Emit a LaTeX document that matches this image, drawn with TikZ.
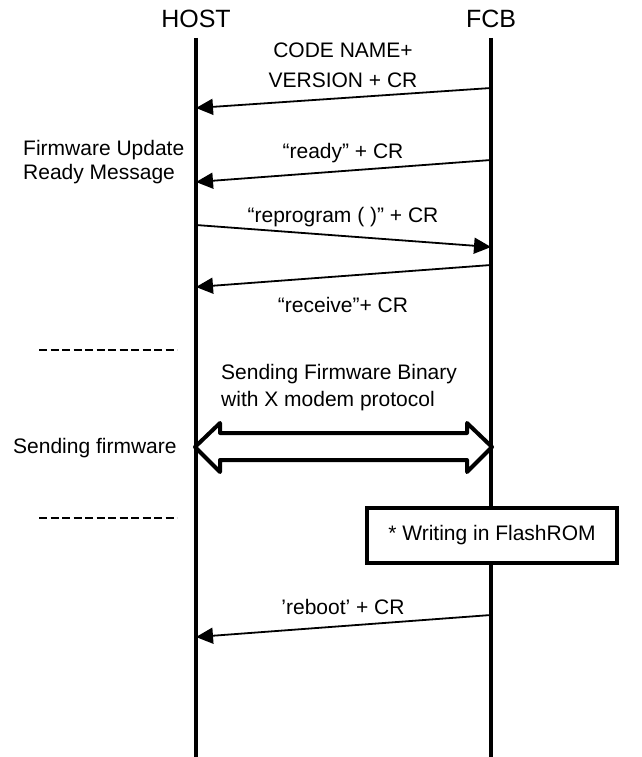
\documentclass[tikz,border=0pt]{standalone}
\usepackage{fontspec}
\setmainfont{Liberation Sans}
\usetikzlibrary{arrows.meta}
\begin{document}
\begin{tikzpicture}[x=1pt,y=-1pt,
  life/.style={line width=4pt},
  msg/.style={line width=1.8pt,-{Triangle[length=17pt,width=16pt]}},
  lbl/.style={font=\fontsize{21}{30}\selectfont, inner sep=0pt, align=center},
  lbll/.style={font=\fontsize{21}{24}\selectfont, inner sep=0pt, align=left},
  lblb/.style={font=\fontsize{21}{27}\selectfont, inner sep=0pt, align=left},
  hdr/.style={font=\fontsize{25}{28}\selectfont, inner sep=0pt},
  sep/.style={line width=2.2pt, dash pattern=on 8pt off 3.5pt},
  fatarrow/.style={line width=4pt, line join=round, fill=white},
  procbox/.style={draw, line width=4pt, fill=white, minimum width=250pt, minimum height=55pt, inner sep=0pt, font=\fontsize{21}{28}\selectfont},
]
\useasboundingbox (0,0) rectangle (641,757);
% headers
\node[hdr] (host) at (196,19) {HOST};
\node[hdr] (fcb) at (491,19) {FCB};
% lifelines
\coordinate (h0) at (196,38);
\coordinate (h9) at (196,757);
\coordinate (f0) at (491,38);
\coordinate (f9) at (491,757);
\draw[life] (h0) -- (h9);
\draw[life] (f0) -- (f9);
% message points
\coordinate (f1) at (491,88);  \coordinate (h1) at (196,108);
\coordinate (f2) at (491,160); \coordinate (h2) at (196,182);
\coordinate (h3) at (196,225); \coordinate (f3) at (491,247);
\coordinate (f4) at (491,265); \coordinate (h4) at (196,287);
\coordinate (f5) at (491,615); \coordinate (h5) at (196,637);
\draw[msg] (f1) -- (h1);
\draw[msg] (f2) -- (h2);
\draw[msg] (h3) -- (f3);
\draw[msg] (f4) -- (h4);
\draw[msg] (f5) -- (h5);
% message labels
\node[lbl] (l1) at (343,65) {CODE NAME+\\VERSION + CR};
\node[lbl] (l2) at (343,153) {“ready” + CR};
\node[lbl] (l3) at (343,217) {“reprogram ( )” + CR};
\node[lbl] (l4) at (343,305) {“receive”+ CR};
\node[lbl] (l5) at (343,607) {’reboot’ + CR};
% side labels
\node[lbll, anchor=west] (fwready) at (23,162) {Firmware Update\\Ready Message};
\node[lbll, anchor=west] (sendfw) at (13,448) {Sending firmware};
\node[lblb, anchor=west] (binary) at (221,388) {Sending Firmware Binary\\with X modem protocol};
% separators
\coordinate (d1a) at (39,350); \coordinate (d1b) at (177,350);
\coordinate (d2a) at (39,518); \coordinate (d2b) at (177,518);
\draw[sep] (d1a) -- (d1b);
\draw[sep] (d2a) -- (d2b);
% double fat arrow
\draw[fatarrow] (195,447) -- (220,423) -- (220,433) -- (467,433) -- (467,423) -- (492,447)
  -- (467,472) -- (467,460) -- (220,460) -- (220,472) -- cycle;
% process box
\node[procbox] (flash) at (492,535.5) {* Writing in FlashROM};
\end{tikzpicture}
\end{document}
